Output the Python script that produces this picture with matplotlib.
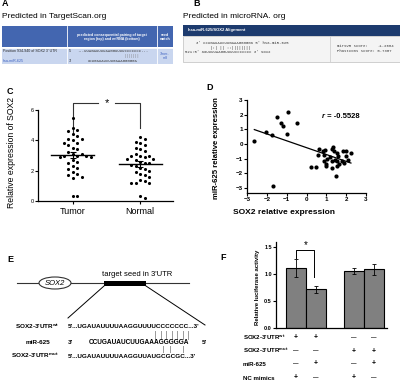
import matplotlib
matplotlib.use("Agg")
import matplotlib.pyplot as plt
import matplotlib.transforms as mtransforms
from matplotlib.patches import Rectangle, Ellipse
import numpy as np

plt.rcParams['font.family'] = ['Liberation Sans', 'DejaVu Sans']
plt.rcParams['mathtext.fontset'] = 'custom'
plt.rcParams['mathtext.rm'] = 'Liberation Sans'
plt.rcParams['mathtext.bf'] = 'Liberation Sans:bold'

W, H = 400, 387

# panel C: relative SOX2 expression
c_groups = ['Tumor', 'Normal']
tumor = [5.5, 4.8, 4.7, 4.6, 4.4, 4.3, 4.1, 4.1, 4.0, 3.8, 3.8, 3.7, 3.5, 3.4,
         3.2, 3.1, 3.1, 3.0, 3.0, 3.0, 2.9, 2.9, 2.7, 2.6, 2.5, 2.3, 2.2, 2.1,
         1.9, 1.8, 1.7, 1.6, 1.5, 0.3, 0.3]
normal = [4.2, 4.1, 3.9, 3.8, 3.7, 3.5, 3.4, 3.3, 3.1, 3.0, 3.0, 3.0, 2.9, 2.8,
          2.8, 2.7, 2.6, 2.5, 2.5, 2.4, 2.3, 2.2, 2.1, 2.0, 1.9, 1.8, 1.7, 1.6,
          1.4, 1.2, 1.2, 1.2, 1.3, 0.2, 0.3]

# panel D: correlation
sox2_expr = [-2.63, -2.06, -1.72, -1.67, -1.50, -1.28, -1.20, -0.95, -1.00, -0.46,
             0.23, 0.50, 0.64, 0.60, 0.82, 0.94, 0.89, 0.86, 1.02, 0.99, 0.97,
             1.19, 1.31, 1.36, 1.41, 1.28, 1.49, 1.53, 1.56, 1.61, 1.83, 1.78,
             1.90, 1.97, 1.98, 2.07, 2.24, 1.53, 1.44, 1.65, 1.27]
mir625_expr = [0.17, 0.81, 0.58, -2.90, 1.82, 1.42, 1.24, 2.21, 0.65, 1.46,
               -1.60, -1.55, -0.35, -0.73, -0.50, -0.40, -0.73, -1.14, -1.00, -1.37, -1.48,
               -0.87, -0.33, -0.23, -0.46, -1.64, -2.16, -1.48, -1.14, -0.85, -0.50, -1.19,
               -1.30, -0.80, -0.50, -1.10, -0.62, -0.62, -1.12, -1.34, -1.14]
r_label = '-0.5528'

# panel F: luciferase
luc_pos = [0, 1, 2.9, 3.9]
luc_mean = [1.12, 0.72, 1.06, 1.09]
luc_err = [0.17, 0.07, 0.05, 0.10]
row_labels = ["SOX2-3'UTR$^\\mathbf{wt}$", "SOX2-3'UTR$^\\mathbf{mut}$", 'miR-625', 'NC mimics']
row_signs = [['+', '+', '—', '—'],
             ['—', '—', '+', '+'],
             ['—', '+', '—', '+'],
             ['+', '—', '+', '—']]

fig = plt.figure(figsize=(W / 100, H / 100), dpi=100)


def px_axes(x0, y0, x1, y1):
    a = fig.add_axes([x0 / W, 1 - y1 / H, (x1 - x0) / W, (y1 - y0) / H])
    a.patch.set_alpha(0)
    return a


def style(a, fs=4):
    for s in ['top', 'right']:
        a.spines[s].set_visible(False)
    for s in ['left', 'bottom']:
        a.spines[s].set_linewidth(0.9)
    a.tick_params(labelsize=fs, length=2, width=0.8, pad=1)


def swarm_offsets(vals, dy=0.34, dx=0.066):
    # crude grid swarm: put each point in the nearest free column
    placed = []
    offs = []
    cand = [0]
    for i in range(1, 12):
        cand += [i, -i]
    for v in vals:
        for c in cand:
            if all(abs(v - pv) >= dy or pc != c for pv, pc in placed):
                break
        placed.append((v, c))
        offs.append(c * dx)
    return offs


# overlay in pixel coords
ov = fig.add_axes([0, 0, 1, 1])
ov.set_xlim(0, W)
ov.set_ylim(H, 0)
ov.axis('off')
ov.set_zorder(5)

# ---- panel letters
for lab, x, y in [('A', 2, 4), ('B', 193, 4), ('C', 7, 91), ('D', 206, 88),
                  ('E', 7, 259), ('F', 220, 258)]:
    ov.text(x, y, lab, fontsize=6.5, fontweight='bold', va='center', ha='left')

ov.text(2, 17, 'Predicted in TargetScan.org', fontsize=6, va='center')
ov.text(183, 17, 'Predicted in microRNA. org', fontsize=6, va='center')

# ---- table A
ov.add_patch(Rectangle((2, 26), 171, 21, color='#4366b0', lw=0))
ov.add_patch(Rectangle((2, 47.5), 171, 16.5, color='#c9d6ef', lw=0))
for xv in [67, 157]:
    ov.plot([xv, xv], [26, 64], color='white', lw=0.6)
ov.plot([2, 173], [47.5, 47.5], color='white', lw=0.6)
tf = 2.6
ov.text(112, 37, 'predicted consequential pairing of target\nregion (top) and miRNA (bottom)',
        fontsize=tf, color='white', ha='center', va='center', fontweight='bold', linespacing=1.2)
ov.text(165, 37, 'seed\nmatch', fontsize=tf, color='white', ha='center', va='center',
        fontweight='bold', linespacing=1.2)
ov.text(3, 51.5, "Position 934-940 of SOX2 3' UTR", fontsize=tf, va='center', color='#222222')
ov.text(69, 51.5, "5'", fontsize=tf, va='center', color='#222222')
ov.text(77, 51.5, '...UUAGAUUUUAAGGUUUUCCCCCCC...', fontsize=tf + 0.2, va='center',
        color='#333333', family='Liberation Mono')
ov.text(124, 55.7, '|||||||', fontsize=tf, va='center', color='#777777', family='Liberation Mono')
ov.text(3, 60.5, 'hsa-miR-625', fontsize=tf, va='center', color='#3a5fc0')
ov.text(69, 60.5, "3'", fontsize=tf, va='center', color='#222222')
ov.text(88, 60.5, 'CCUGAUAUCUUGAAAGGGGGA', fontsize=tf + 0.2, va='center',
        color='#333333', family='Liberation Mono')
ov.text(165, 56, '7mer-\nm8', fontsize=tf, va='center', ha='center', color='#3a5fc0',
        linespacing=1.2)

# ---- table B
ov.add_patch(Rectangle((183, 25), 217, 10.5, color='#1d3b6e', lw=0))
ov.add_patch(Rectangle((183, 35.5), 216.5, 26.5, facecolor='#f4f4f4', edgecolor='#c8c8c8', lw=0.6))
ov.plot([330, 330], [36, 61.5], color='#d0d0d0', lw=0.6)
ov.text(188, 30.5, 'hsa-miR-625/SOX2 Alignment', fontsize=3, color='white',
        fontweight='bold', va='center')
mono = dict(fontsize=2.8, family='Liberation Mono', va='center', color='#333333')
ov.text(196, 43, "3' ccUGAUAUCUUGAAAGGGGGa 5' hsa-miR-625", **mono)
ov.text(196, 47.5, "      |:| || ::||||||||", **mono)
ov.text(185, 52, "521:5' aaUUUUAAGGUUUUCCCCCCc 3' SOX2", **mono)
ov.text(337, 46, 'mirSVR score:', **mono)
ov.text(394, 46, '-1.2684', ha='right', **mono)
ov.text(337, 51.5, 'PhastCons score: 0.7307', **mono)

# ---- panel C
axC = px_axes(38, 110, 173, 201)
style(axC)
for i, vals in enumerate([tumor, normal]):
    xc = i + 1
    vs = sorted(vals, reverse=True)
    offs = swarm_offsets(vs)
    axC.scatter(np.array(offs) + xc, vs, s=5, color='black', lw=0, zorder=3)
    m = np.mean(vals)
    sem = np.std(vals, ddof=1) / np.sqrt(len(vals))
    axC.plot([xc - 0.32, xc + 0.32], [m, m], color='black', lw=1.0, zorder=4)
    axC.errorbar(xc, m, yerr=sem, color='black', capsize=2.5, lw=0.8, capthick=0.8, zorder=4)
axC.set_xlim(0.48, 2.49)
axC.set_ylim(0, 6)
axC.set_yticks([0, 2, 4, 6])
axC.set_xticks([1, 2])
axC.set_xticklabels(c_groups, fontsize=6.5)
axC.tick_params(axis='x', pad=2)
axC.plot([1, 1, 1.38], [4.5, 6.45, 6.45], color='#333333', lw=0.8, clip_on=False)
axC.plot([1.62, 2, 2], [6.45, 6.45, 4.8], color='#333333', lw=0.8, clip_on=False)
axC.text(1.5, 6.45, '*', fontsize=8, ha='center', va='center')
ov.text(12, 152, 'Relative expression of SOX2', rotation=90, fontsize=6.2,
        ha='center', va='center')

# ---- panel D
axD = px_axes(247, 100, 366, 193)
style(axD, fs=4.5)
axD.scatter(sox2_expr, mir625_expr, s=9, color='black', lw=0, zorder=3)
k, b = np.polyfit(sox2_expr, mir625_expr, 1)
xs = np.array([min(sox2_expr), max(sox2_expr)])
axD.plot(xs, k * xs + b, color='black', lw=0.9)
axD.set_xlim(-3, 3)
axD.set_ylim(-3.35, 3)
axD.set_xticks(range(-3, 4))
axD.set_yticks(range(-3, 4))
for t in axD.get_xticklabels() + axD.get_yticklabels():
    t.set_fontweight('bold')
rt = axD.text(0.8, 1.9, 'r', fontsize=5.5, fontweight='bold', fontstyle='italic', va='center')
axD.annotate(' = ' + r_label, xy=(1, 0.5), xycoords=rt, va='center', fontsize=5.5,
             fontweight='bold')
ov.text(284, 212, 'SOX2 relative expression', fontsize=6, fontweight='bold',
        ha='center', va='center')
ov.text(216, 148, 'miR-625 relative expression', rotation=90, fontsize=5.6,
        fontweight='bold', ha='center', va='center')

# ---- panel E
ov.plot([17, 189], [283, 283], color='#333333', lw=0.8)
ov.add_patch(Ellipse((55, 283), 32, 12, facecolor='white', edgecolor='#333333', lw=0.8, zorder=3))
ov.text(55, 283.5, 'SOX2', fontsize=5.5, fontstyle='italic', ha='center', va='center', zorder=4)
ov.add_patch(Rectangle((104, 280.5), 42, 5.5, color='black', lw=0, zorder=3))
ov.text(137, 274, "target seed in 3'UTR", fontsize=5.5, ha='center', va='center')
ov.plot([104, 68], [286, 318], color='black', lw=0.7)
ov.plot([146, 205], [286, 325], color='black', lw=0.7)
sf = 4.6
ov.text(59, 327, "SOX2-3'UTR$^\\mathbf{wt}$", fontsize=sf, fontweight='bold', ha='right', va='center')
ov.text(68, 327, "5'...UGAUAUUUUAAGGUUUUCCCCCCC...3'", fontsize=sf, fontweight='bold', va='center')
ov.text(50, 342, 'miR-625', fontsize=sf, fontweight='bold', ha='right', va='center')
ov.text(68, 342, "3'", fontsize=sf, fontweight='bold', va='center')
ov.text(89, 342, 'CCUGAUAUCUUGAAAGGGGGA', fontsize=sf + 0.1, fontweight='bold', va='center')
ov.text(202, 342, "5'", fontsize=sf, fontweight='bold', va='center')
ov.text(59, 356, "SOX2-3'UTR$^\\mathbf{mut}$", fontsize=sf, fontweight='bold', ha='right', va='center')
ov.text(68, 356, "5'...UGAUAUUUUAAGGUUAUGCGCGC...3'", fontsize=sf, fontweight='bold', va='center')
for xv in np.linspace(155, 188, 7):
    ov.plot([xv, xv], [331, 338.5], color='#999999', lw=0.7)
for xv in [163, 170, 183]:
    ov.plot([xv, xv], [345.5, 351.5], color='#999999', lw=0.7)

# ---- panel F
axF = px_axes(276, 242, 387, 328)
style(axF, fs=4)
axF.bar(luc_pos, luc_mean, width=1.0, color='#808080', edgecolor='black', lw=0.8, zorder=2)
axF.errorbar(luc_pos, luc_mean, yerr=luc_err, fmt='none', ecolor='black', capsize=1.2,
             lw=0.6, capthick=0.6, zorder=3)
axF.set_xlim(-1, 4.55)
axF.set_ylim(0, 1.6)
axF.set_xticks([])
axF.set_yticks([0, 0.5, 1.0, 1.5])
axF.set_yticklabels(['0.0', '0.5', '1.0', '1.5'])
for t in axF.get_yticklabels():
    t.set_fontweight('bold')
top0 = luc_mean[0] + luc_err[0]
top1 = luc_mean[1] + luc_err[1]
axF.plot([luc_pos[0], luc_pos[0], luc_pos[1] - 0.1, luc_pos[1] - 0.1],
         [top0 + 0.02, 1.45, 1.45, top1 + 0.15], color='black', lw=0.7, clip_on=False)
axF.text((luc_pos[0] + luc_pos[1]) / 2, 1.55, '*', fontsize=7, ha='center', va='center')
ov.text(258, 287, 'Relative luciferase activity', rotation=90, fontsize=4.3,
        fontweight='bold', ha='center', va='center')

blend = mtransforms.blended_transform_factory(axF.transData, ov.transData)
for r, (lab, signs) in enumerate(zip(row_labels, row_signs)):
    yy = [338, 351, 364, 378][r]
    ov.text(243, yy, lab, fontsize=4.4, fontweight='bold', va='center')
    for p, s in zip(luc_pos, signs):
        ov.text(p, yy, s, transform=blend, fontsize=5 if s == '+' else 4,
                fontweight='bold', ha='center', va='center')

fig.savefig('out.png', dpi=100)
